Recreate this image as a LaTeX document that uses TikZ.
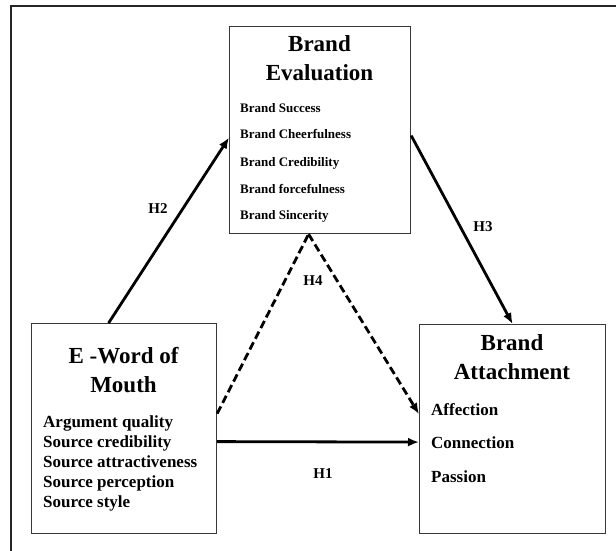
\documentclass[tikz,border=0pt]{standalone}
\usepackage{fontspec}
\setmainfont{Liberation Serif}
\usetikzlibrary{arrows.meta,calc}
\begin{document}
\begin{tikzpicture}[x=1pt,y=-1pt,
  box/.style={draw=black!78,line width=1.2pt,inner sep=0pt,anchor=north west},
  ttl/.style={font=\bfseries\fontsize{23}{28}\selectfont,anchor=base,inner sep=0pt},
  smitem/.style={font=\bfseries\fontsize{13}{16}\selectfont,anchor=base west,inner sep=0pt},
  bgitem/.style={font=\bfseries\fontsize{17}{20}\selectfont,anchor=base west,inner sep=0pt},
  hlab/.style={font=\bfseries\fontsize{15}{18}\selectfont,anchor=base,inner sep=0pt},
  arr/.style={line width=2.8pt,-{Latex[length=11pt,width=9pt]}},
  dsh/.style={line width=2.8pt,dash pattern=on 8pt off 4pt,line join=miter}
]
\useasboundingbox (0,0) rectangle (616,551);
% outer frame (top and left edges visible)
\coordinate (ftl) at (11,6);
\coordinate (ftr) at (616,6);
\coordinate (fbl) at (11,551);
\draw[line width=2pt,black!85] (ftr) -- (ftl) -- (fbl);

% boxes
\node[box,minimum width=181pt,minimum height=207pt] (eval) at (229,26) {};
\node[box,minimum width=185pt,minimum height=210pt] (ewom) at (31,323) {};
\node[box,minimum width=186pt,minimum height=209pt] (batt) at (419,324) {};

% Brand Evaluation text
\node[ttl] (evt1) at (319.5,52) {Brand};
\node[ttl] (evt2) at (319.5,81) {Evaluation};
\node[smitem] (ev1) at (240,112) {Brand Success};
\node[smitem] (ev2) at (240,139) {Brand Cheerfulness};
\node[smitem] (ev3) at (240,166) {Brand Credibility};
\node[smitem] (ev4) at (240,193) {Brand forcefulness};
\node[smitem] (ev5) at (240,219) {Brand Sincerity};

% E-Word of Mouth text
\node[ttl] (ewt1) at (123.5,363) {E -Word of};
\node[ttl] (ewt2) at (123.5,392) {Mouth};
\node[bgitem] (ew1) at (43,427) {Argument quality};
\node[bgitem] (ew2) at (43,447) {Source credibility};
\node[bgitem] (ew3) at (43,467) {Source attractiveness};
\node[bgitem] (ew4) at (43,487) {Source perception};
\node[bgitem] (ew5) at (43,507) {Source style};

% Brand Attachment text
\node[ttl] (bat1) at (512,350) {Brand};
\node[ttl] (bat2) at (512,379) {Attachment};
\node[bgitem] (ba1) at (431,415) {Affection};
\node[bgitem] (ba2) at (431,448) {Connection};
\node[bgitem] (ba3) at (431,482) {Passion};

% connectors
\draw[arr] ($(ewom.north)+(-15.5,0)$) -- ($(eval.west)+(0,7.5)$);
\draw[arr] ($(eval.east)+(0,5.5)$) -- (batt.north);
\draw[arr] ($(ewom.east)+(0,13)$) -- ($(batt.west)+(0,13)$);
\draw[dsh] ($(ewom.east)+(0,-15)$) -- ($(eval.south)+(-11.5,0)$);
\draw[dsh,-{Latex[length=11pt,width=9pt]}] ($(eval.south)+(-11.5,0)$) -- ($(batt.west)+(0,-15)$);

% labels
\node[hlab] (h2) at (158,213) {H2};
\node[hlab] (h3) at (483,231) {H3};
\node[hlab] (h4) at (313,285) {H4};
\node[hlab] (h1) at (323,478) {H1};
\end{tikzpicture}
\end{document}
